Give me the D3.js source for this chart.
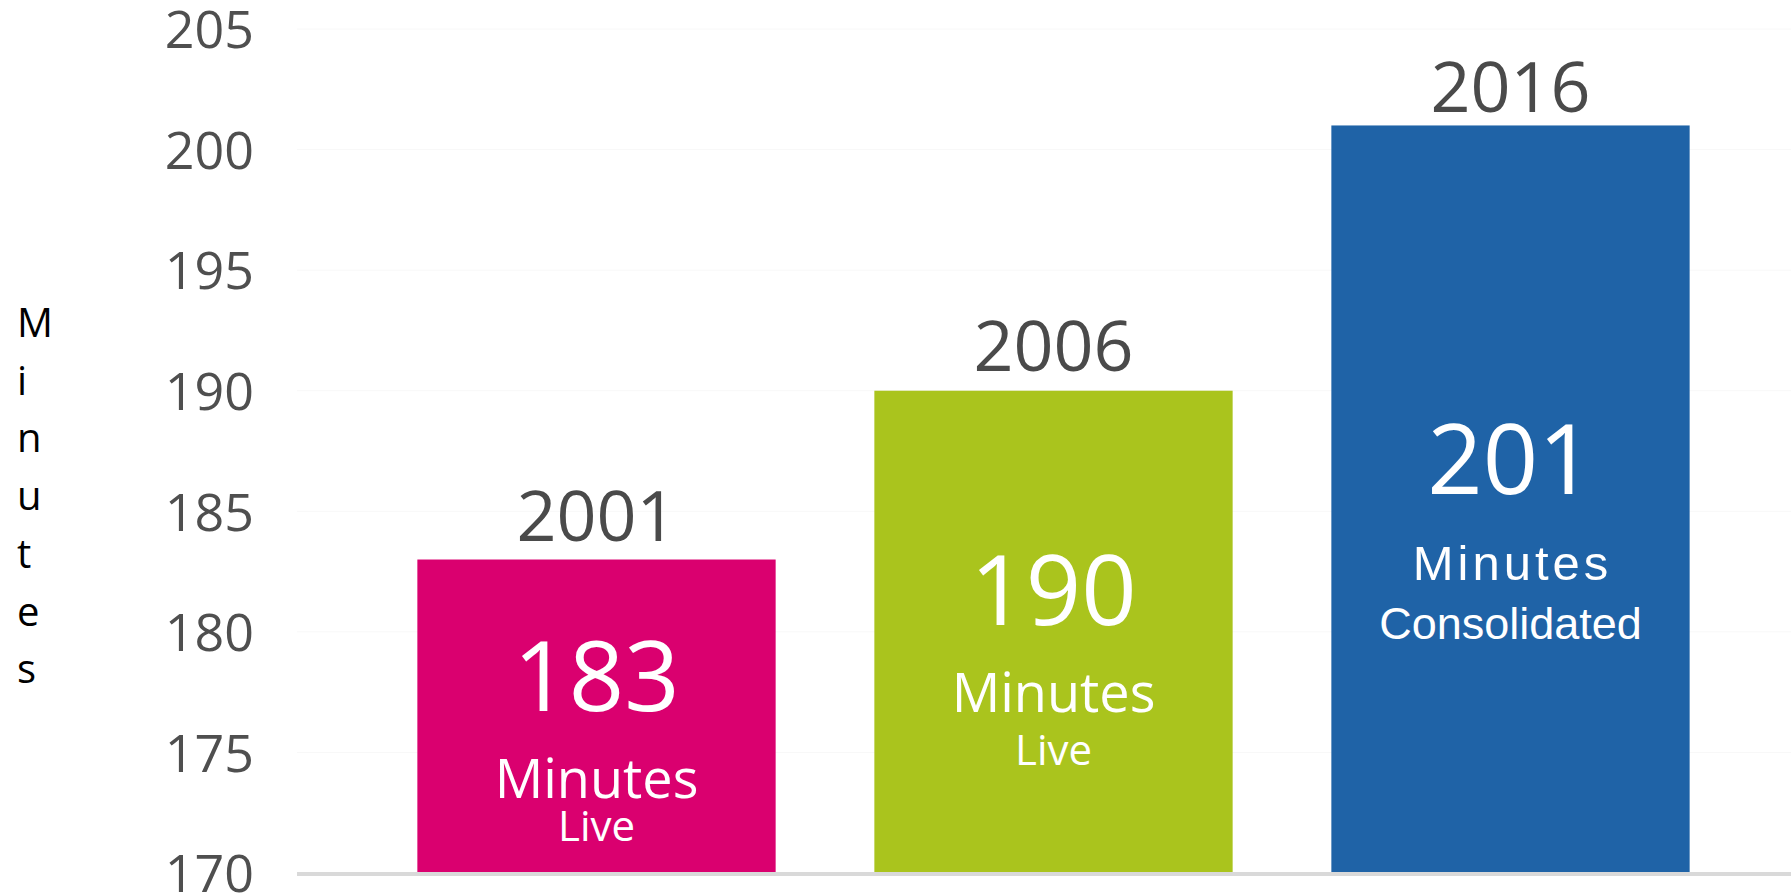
<!DOCTYPE html>
<html>
<head>
<meta charset="utf-8">
<script src="https://cdn.jsdelivr.net/npm/d3@7"></script>
<style>
  html, body { margin: 0; padding: 0; background: #ffffff; }
  svg { display: block; }
</style>
</head>
<body>
<svg id="chart" width="1791" height="896"></svg>
<script>
// ---- data ----
const categories = ["2001", "2006", "2016"];
const values = [183, 190, 201];
const unitLabels = ["Minutes", "Minutes", "Minutes"];
const typeLabels = ["Live", "Live", "Consolidated"];
const yTicks = [170, 175, 180, 185, 190, 195, 200, 205];
const yTitle = "Minutes";
const colors = ["#da006f", "#aac41d", "#1f63a7"];

// ---- layout ----
const W = 1791, H = 896;
const svg = d3.select("#chart");

const y = d3.scaleLinear().domain([170, 205]).range([873, 29]);
const x = d3.scaleBand().domain(categories).range([368, 1739])
  .paddingInner(0.216).paddingOuter(0.108);

// in-bar annotation layout (pixel offsets below bar tops), per bar
const annot = [
  { num: 151, unit: 238, type: 281, unitFont: "'Open Sans', sans-serif", unitSize: 54, typeSize: 42, unitSpacing: 0 },
  { num: 234, unit: 321, type: 374, unitFont: "'Open Sans', sans-serif", unitSize: 54, typeSize: 42, unitSpacing: 0 },
  { num: 368.5, unit: 455, type: 513.5, unitFont: "'Liberation Sans', Arial, sans-serif", unitSize: 49, typeSize: 45, unitSpacing: 4 }
];

// gridlines (very faint)
svg.append("g").selectAll("line").data(yTicks.slice(1)).join("line")
  .attr("x1", 297).attr("x2", W)
  .attr("y1", d => y(d)).attr("y2", d => y(d))
  .attr("stroke", "#f8f8f8").attr("stroke-width", 1);

// y axis labels (via d3 axis)
const yAxis = d3.axisLeft(y).tickValues(yTicks).tickSize(0).tickPadding(0);
const gy = svg.append("g").attr("transform", "translate(254,0)").call(yAxis);
gy.select(".domain").remove();
gy.selectAll("text")
  .attr("font-family", "'Open Sans', sans-serif")
  .attr("font-size", 52)
  .attr("fill", "#4f4f4f")
  .attr("dy", "0.36em");

// bars
const data = categories.map((c, i) => ({ c, v: values[i], i }));
svg.append("g").selectAll("rect").data(data).join("rect")
  .attr("x", d => x(d.c))
  .attr("width", x.bandwidth())
  .attr("y", d => y(d.v))
  .attr("height", d => y(170) - y(d.v))
  .attr("fill", d => colors[d.i]);

// axis baseline
svg.append("line")
  .attr("x1", 297).attr("x2", W)
  .attr("y1", y(170) + 1).attr("y2", y(170) + 1)
  .attr("stroke", "#d9d9d9").attr("stroke-width", 4);

// year labels above bars
const yearOffset = [19, 19.5, 13.7];
svg.append("g").selectAll("text").data(data).join("text")
  .attr("x", d => x(d.c) + x.bandwidth() / 2)
  .attr("y", d => y(d.v) - yearOffset[d.i])
  .attr("text-anchor", "middle")
  .attr("font-family", "'Open Sans', sans-serif")
  .attr("font-size", 70)
  .attr("fill", "#4a4a4a")
  .text(d => d.c);

// in-bar labels
const inner = svg.append("g");
data.forEach(d => {
  const cx = x(d.c) + x.bandwidth() / 2;
  const top = y(d.v);
  const a = annot[d.i];
  inner.append("text")
    .attr("x", cx).attr("y", top + a.num)
    .attr("text-anchor", "middle")
    .attr("font-family", "'Open Sans', sans-serif")
    .attr("font-size", 97)
    .attr("fill", "#ffffff")
    .text(d.v);
  inner.append("text")
    .attr("x", cx + a.unitSpacing / 2).attr("y", top + a.unit)
    .attr("text-anchor", "middle")
    .attr("font-family", a.unitFont)
    .attr("font-size", a.unitSize)
    .attr("letter-spacing", a.unitSpacing)
    .attr("fill", "#ffffff")
    .text(unitLabels[d.i]);
  inner.append("text")
    .attr("x", cx).attr("y", top + a.type)
    .attr("text-anchor", "middle")
    .attr("font-family", a.unitFont)
    .attr("font-size", a.typeSize)
    .attr("fill", "#ffffff")
    .text(typeLabels[d.i]);
});

// vertical stacked y-axis title
const yt = svg.append("text")
  .attr("font-family", "'Open Sans', sans-serif")
  .attr("font-size", 40)
  .attr("fill", "#000000");
yTitle.split("").forEach((ch, i) => {
  yt.append("tspan").attr("x", 17).attr("y", 337 + i * 57.7).text(ch);
});
</script>
</body>
</html>
